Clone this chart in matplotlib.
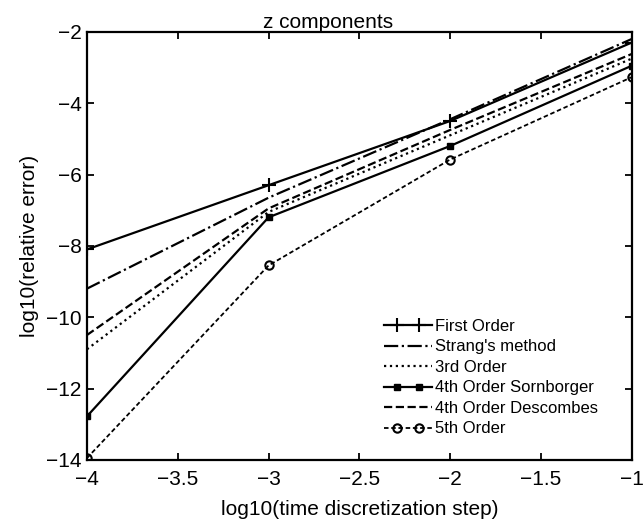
import numpy as np
import matplotlib
matplotlib.use('Agg')
from matplotlib import pyplot as plt
from matplotlib.legend_handler import HandlerLine2D

plt.rcParams['font.family'] = ['Liberation Sans', 'DejaVu Sans']

# log10 of time step
steps = [-4, -3, -2, -1]

# log10 of relative error
first = [-8.1, -6.3, -4.5, -2.3]
strang = [-9.2, -6.65, -4.45, -2.2]
third = [-10.9, -7.05, -4.9, -2.75]
sornborger = [-12.78, -7.2, -5.2, -2.95]
descombes = [-10.5, -6.95, -4.75, -2.62]
fifth = [-13.95, -8.55, -5.58, -3.27]

xticks = [-4, -3.5, -3, -2.5, -2, -1.5, -1]
xticklabels = ['\u22124', '\u22123.5', '\u22123', '\u22122.5', '\u22122', '\u22121.5', '\u22121']
yticks = [-14, -12, -10, -8, -6, -4, -2]


# legend line runs the full handle width, the two markers sit inside it
class InsetMarkers(HandlerLine2D):
    def create_artists(self, legend, orig_handle, xdescent, ydescent,
                       width, height, fontsize, trans):
        artists = super().create_artists(legend, orig_handle, xdescent, ydescent,
                                         width, height, fontsize, trans)
        line = artists[0]
        y = line.get_ydata()[0]
        x0 = -xdescent
        x1 = -xdescent + width
        pad = 0.28 * width
        line.set_data([x0, x0 + pad, x1 - pad, x1], [y, y, y, y])
        line.set_markevery([1, 2])
        return artists


fig = plt.figure(figsize=(6.44, 5.22), dpi=100)
ax = fig.add_axes([0.135, 0.119, 0.846, 0.82])

ax.plot(steps, first, 'k-', marker='+', ms=10, mew=1.5, lw=1.6, label='First Order')
ax.plot(steps, strang, 'k-.', lw=1.6, label="Strang's method")
ax.plot(steps, third, 'k:', lw=1.6, label='3rd Order')
ax.plot(steps, sornborger, 'k-', marker='s', ms=5, lw=1.6, label='4th Order Sornborger')
ax.plot(steps, descombes, 'k--', lw=1.6, label='4th Order Descombes')
ax.plot(steps, fifth, 'k--', marker='o', ms=6, mfc='none', mew=1.5, lw=1.3,
        dashes=(2.5, 1.5), label='5th Order')

ax.set_xlim(-4, -1)
ax.set_ylim(-14, -2)
ax.set_xticks(xticks)
ax.set_xticklabels(xticklabels)
ax.set_yticks(yticks)
ax.tick_params(direction='in', top=True, right=True, labelsize=15, length=5, width=1.3)
ax.tick_params(axis='x', pad=7)
ax.tick_params(axis='y', pad=4)
for s in ax.spines.values():
    s.set_linewidth(1.6)

# title sits centred on the figure rather than the axes
ax.set_title('z components', fontsize=15, pad=3, x=0.442)
ax.set_xlabel('log10(time discretization step)', fontsize=15, labelpad=8)
ax.set_ylabel('log10(relative error)', fontsize=15, labelpad=5)

handles, labels = ax.get_legend_handles_labels()
ax.legend(handles, labels, loc='lower left', frameon=False, fontsize=12,
          handlelength=2.9, handletextpad=0.15, labelspacing=0.33, borderpad=0,
          borderaxespad=0, numpoints=2, bbox_to_anchor=(0.545, 0.055),
          handler_map={h: InsetMarkers() for h in handles})

fig.savefig('out.png', dpi=100)
